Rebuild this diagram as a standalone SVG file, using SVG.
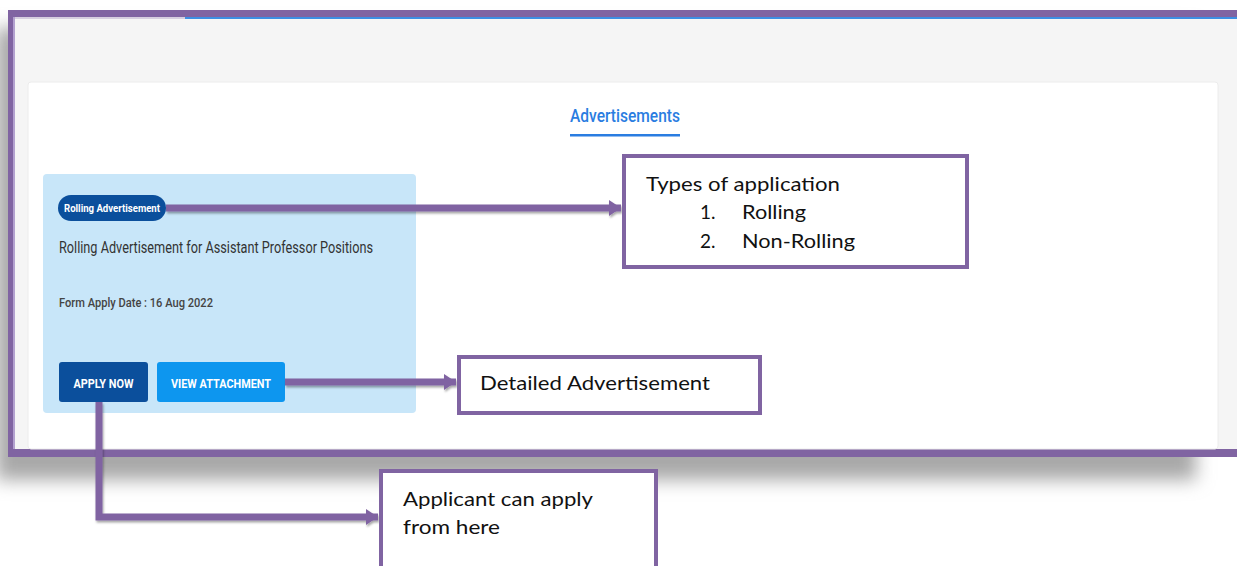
<svg xmlns="http://www.w3.org/2000/svg" width="1237" height="566" viewBox="0 0 1237 566">
  <defs>
    <style>
      .ui { font-family: Roboto, "Liberation Sans", sans-serif; }
      .note { font-family: Lato, "Liberation Sans", sans-serif; font-size: 19px; fill: #111; }
      .box { fill: #fff; stroke: #8064a2; stroke-width: 4; }
      .conn { fill: none; stroke: #8064a2; stroke-width: 7; filter: url(#cshadow); }
    </style>
    <filter id="blur" x="-10%" y="-10%" width="120%" height="130%">
      <feGaussianBlur stdDeviation="9"/>
    </filter>
    <filter id="cshadow" filterUnits="userSpaceOnUse" x="0" y="0" width="1237" height="566">
      <feDropShadow dx="1" dy="2" stdDeviation="1.2" flood-color="#000" flood-opacity="0.35"/>
    </filter>
    <marker id="arrow" markerUnits="userSpaceOnUse" markerWidth="14" markerHeight="18" refX="12" refY="9" orient="auto">
      <path d="M0,1 L12,9 L0,17 Z" fill="#8064a2"/>
    </marker>
  </defs>

  <rect width="1237" height="566" fill="#ffffff"/>

  <!-- screenshot shadow -->
  <rect x="-4" y="28" width="1200" height="452" fill="#a8a8a8" filter="url(#blur)"/>

  <!-- screenshot frame -->
  <g id="screenshot">
    <rect x="8" y="10" width="1240" height="447" fill="#8064a2"/>
    <rect x="15" y="17" width="1230" height="432" fill="#f5f5f5"/>
    <rect x="13" y="17" width="2" height="432" fill="#b3a1cf"/>
    <rect x="15" y="17" width="170" height="2" fill="#d6cfe0"/>
    <rect x="185" y="17" width="1060" height="2" fill="#3d8fe3"/>
    <rect x="28" y="82" width="1190" height="367" rx="3" fill="#ffffff" stroke="#ececec" stroke-width="1"/>
    <text class="ui" x="625" y="122" text-anchor="middle" font-size="19" font-weight="500" fill="#2a7de1" textLength="110" lengthAdjust="spacingAndGlyphs">Advertisements</text>
    <rect x="570" y="134" width="110" height="2.5" fill="#2a7de1"/>
  </g>

  <g id="ad-card">
    <rect x="43" y="174" width="373" height="239" rx="4" fill="#c8e6f9"/>
    <text class="ui" x="59" y="253" font-size="16" fill="#333" textLength="314" lengthAdjust="spacingAndGlyphs">Rolling Advertisement for Assistant Professor Positions</text>
    <text class="ui" x="59" y="307" font-size="13" font-weight="500" fill="#444" textLength="154" lengthAdjust="spacingAndGlyphs">Form Apply Date : 16 Aug 2022</text>
  </g>

  <g id="pill">
    <rect x="58" y="195" width="108" height="26" rx="13" fill="#0b4f9c"/>
    <text class="ui" x="112" y="212" text-anchor="middle" font-size="11" font-weight="700" fill="#fff" textLength="96" lengthAdjust="spacingAndGlyphs">Rolling Advertisement</text>
  </g>

  <g id="apply-btn">
    <rect x="59" y="362" width="89" height="40" rx="3" fill="#0b4f9c"/>
    <text class="ui" x="103.5" y="388" text-anchor="middle" font-size="13" font-weight="700" fill="#fff" textLength="60" lengthAdjust="spacingAndGlyphs">APPLY NOW</text>
  </g>

  <g id="attach-btn">
    <rect x="157" y="362" width="128" height="40" rx="3" fill="#0d96ef"/>
    <text class="ui" x="221" y="388" text-anchor="middle" font-size="13" font-weight="700" fill="#fff" textLength="100" lengthAdjust="spacingAndGlyphs">VIEW ATTACHMENT</text>
  </g>

  <g id="connectors">
    <path class="conn" d="M166,208 H621" marker-end="url(#arrow)"/>
    <path class="conn" d="M285,382 H456" marker-end="url(#arrow)"/>
    <path class="conn" d="M99,402 V517 H378" marker-end="url(#arrow)"/>
  </g>

  <g id="types-box">
    <rect class="box" x="624" y="156" width="343" height="111"/>
    <text class="note" x="646" y="191" textLength="194" lengthAdjust="spacingAndGlyphs">Types of application</text>
    <text class="note" x="700" y="219">1.</text>
    <text class="note" x="742" y="219" textLength="64" lengthAdjust="spacingAndGlyphs">Rolling</text>
    <text class="note" x="700" y="248">2.</text>
    <text class="note" x="742" y="248" textLength="113" lengthAdjust="spacingAndGlyphs">Non-Rolling</text>
  </g>

  <g id="detail-box">
    <rect class="box" x="459" y="357" width="301" height="56"/>
    <text class="note" x="480" y="390" textLength="230" lengthAdjust="spacingAndGlyphs">Detailed Advertisement</text>
  </g>

  <g id="apply-box">
    <rect class="box" x="381" y="471" width="275" height="110"/>
    <text class="note" x="403" y="506" textLength="190" lengthAdjust="spacingAndGlyphs">Applicant can apply</text>
    <text class="note" x="403" y="534" textLength="97" lengthAdjust="spacingAndGlyphs">from here</text>
  </g>
</svg>
